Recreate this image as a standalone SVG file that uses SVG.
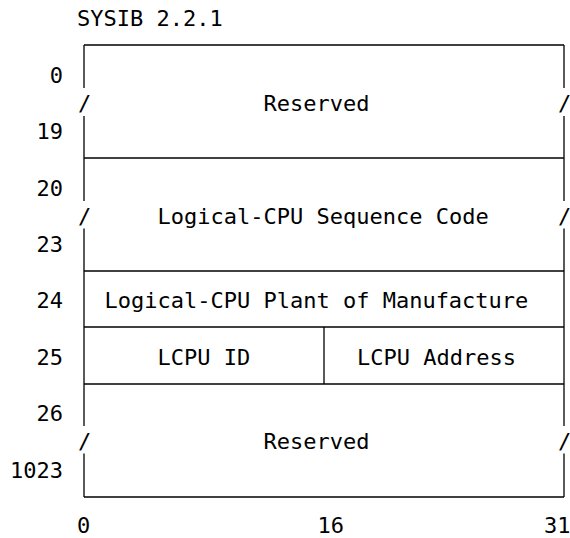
<svg xmlns="http://www.w3.org/2000/svg" width="570" height="538" viewBox="0 0 570 538">
<style>
text{font-family:"DejaVu Sans Mono","Liberation Mono",monospace;font-size:22px;fill:#000}
.r{text-anchor:end}
.m{text-anchor:middle}
line{stroke:#000;stroke-width:1.3}
</style>
<rect width="570" height="538" fill="#fff"/>
<text id="title" x="77" y="26">SYSIB 2.2.1</text>
<g id="rowlabels">
<text class="r" x="63" y="83">0</text>
<text class="r" x="63" y="139">19</text>
<text class="r" x="63" y="196">20</text>
<text class="r" x="63" y="252">23</text>
<text class="r" x="63" y="308">24</text>
<text class="r" x="63" y="365">25</text>
<text class="r" x="63" y="421">26</text>
<text class="r" x="63" y="478">1023</text>
</g>
<g id="bitlabels">
<text x="77" y="533">0</text>
<text x="317.5" y="533">16</text>
<text x="544" y="533">31</text>
</g>
<g id="lines">
<line x1="84" y1="45" x2="564" y2="45"/>
<line x1="84" y1="158" x2="564" y2="158"/>
<line x1="84" y1="271" x2="564" y2="271"/>
<line x1="84" y1="327" x2="564" y2="327"/>
<line x1="84" y1="384" x2="564" y2="384"/>
<line x1="84" y1="497" x2="564" y2="497"/>
<line x1="84" y1="45" x2="84" y2="88"/>
<line x1="84" y1="116" x2="84" y2="201"/>
<line x1="84" y1="228.5" x2="84" y2="426"/>
<line x1="84" y1="453.5" x2="84" y2="497"/>
<line x1="564" y1="45" x2="564" y2="88"/>
<line x1="564" y1="116" x2="564" y2="201"/>
<line x1="564" y1="228.5" x2="564" y2="426"/>
<line x1="564" y1="453.5" x2="564" y2="497"/>
<line x1="324" y1="327" x2="324" y2="384"/>
</g>
<g id="slashes">
<text class="m" x="84.5" y="111">/</text>
<text class="m" x="564.5" y="111">/</text>
<text class="m" x="84.5" y="224">/</text>
<text class="m" x="564.5" y="224">/</text>
<text class="m" x="84.5" y="449">/</text>
<text class="m" x="564.5" y="449">/</text>
</g>
<g id="reserved1"><text x="263.5" y="111">Reserved</text></g>
<g id="seqcode"><text x="157.5" y="224">Logical-CPU Sequence Code</text></g>
<g id="plant"><text x="104.5" y="308">Logical-CPU Plant of Manufacture</text></g>
<g id="lcpuid"><text x="157.5" y="365">LCPU ID</text></g>
<g id="lcpuaddr"><text x="357" y="365">LCPU Address</text></g>
<g id="reserved2"><text x="263.5" y="449">Reserved</text></g>
</svg>
